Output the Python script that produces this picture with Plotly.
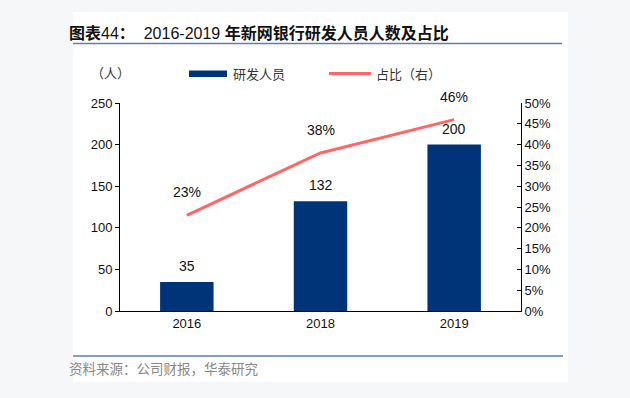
import plotly.graph_objects as go

years = ["2016", "2018", "2019"]
staff = [35, 132, 200]
ratio = [0.23, 0.38, 0.46]
ratio_labels = ["23%", "38%", "46%"]

W, H = 630, 398
L, R, T, B = 120, 521, 103, 311  # plot area pixels


def px(x):
    return (x - L) / (R - L)


def py(y):
    return (B - y) / (B - T)


NAVY = "#003478"
RED = "#ff6666"
BG = "#f6f7f9"
FONT = "Liberation Sans, Arial, Noto Sans CJK SC, sans-serif"

fig = go.Figure()
fig.add_trace(go.Bar(x=years, y=staff, marker=dict(color=NAVY, line=dict(width=0)),
                     width=0.4, name="研发人员", yaxis="y"))
fig.add_trace(go.Scatter(x=years, y=ratio, mode="lines", line=dict(color=RED, width=3),
                         name="占比（右）", yaxis="y2"))

ann = []
for i, v in enumerate(staff):
    ann.append(dict(x=i, y=v, xref="x", yref="y", text=str(v), showarrow=False,
                    yshift=16, font=dict(size=14, color="#111", family=FONT)))
for i, (v, t) in enumerate(zip(ratio, ratio_labels)):
    ann.append(dict(x=i, y=v, xref="x", yref="y2", text=t, showarrow=False,
                    yshift=23, font=dict(size=14, color="#111", family=FONT)))

# title
ann.append(dict(x=px(67), y=py(33), xref="paper", yref="paper", xanchor="left", yanchor="middle",
                showarrow=False,
                text="<b>图表</b>44<b>：</b>  2016-2019 <b>年新网银行研发人员人数及占比</b>",
                font=dict(size=16, color="#111", family=FONT)))
# unit
ann.append(dict(x=px(89), y=py(73), xref="paper", yref="paper", xanchor="left", yanchor="middle",
                showarrow=False, text="（人）", font=dict(size=13, color="#333", family=FONT)))
# legend texts
ann.append(dict(x=px(231), y=py(74), xref="paper", yref="paper", xanchor="left", yanchor="middle",
                showarrow=False, text="研发人员", font=dict(size=13, color="#333", family=FONT)))
ann.append(dict(x=px(374), y=py(74), xref="paper", yref="paper", xanchor="left", yanchor="middle",
                showarrow=False, text="占比（右）", font=dict(size=13, color="#333", family=FONT)))
# source
ann.append(dict(x=px(67), y=py(369), xref="paper", yref="paper", xanchor="left", yanchor="middle",
                showarrow=False, text="资料来源：公司财报，华泰研究",
                font=dict(size=13.5, color="#888", family=FONT)))

shapes = [
    # card
    dict(type="rect", xref="paper", yref="paper", x0=px(73), x1=px(568), y0=py(382), y1=py(12),
         fillcolor="white", line=dict(width=0), layer="below"),
    # title underline
    dict(type="line", xref="paper", yref="paper", x0=px(73), x1=px(562), y0=py(43.5), y1=py(43.5),
         line=dict(color="#5b7fae", width=1.5)),
    # bottom line
    dict(type="line", xref="paper", yref="paper", x0=px(73), x1=px(563), y0=py(356), y1=py(356),
         line=dict(color="#5b7fae", width=1.5)),
    # legend symbols
    dict(type="rect", xref="paper", yref="paper", x0=px(189), x1=px(227), y0=py(77), y1=py(70.5),
         fillcolor=NAVY, line=dict(width=0)),
    dict(type="line", xref="paper", yref="paper", x0=px(329), x1=px(371), y0=py(73.5), y1=py(73.5),
         line=dict(color=RED, width=3)),
]

fig.update_layout(
    width=W, height=H,
    margin=dict(l=L, r=W - R, t=T, b=H - B, pad=0),
    paper_bgcolor=BG,
    plot_bgcolor="rgba(0,0,0,0)",
    showlegend=False,
    bargap=0.6,
    font=dict(family=FONT, size=13, color="#111"),
    xaxis=dict(type="category", range=[-0.5, 2.5], showline=True, linecolor="black", linewidth=1,
               ticks="", showgrid=False, tickfont=dict(size=13, color="#111")),
    yaxis=dict(range=[0, 250], dtick=50, showline=True, linecolor="black", linewidth=1,
               ticks="outside", ticklen=4, tickcolor="black", showgrid=False, zeroline=False,
               tickfont=dict(size=13, color="#111")),
    yaxis2=dict(range=[0, 0.5], dtick=0.05, tickformat=".0%", overlaying="y", side="right",
                showline=True, linecolor="black", linewidth=1, ticks="inside", ticklen=4,
                tickcolor="black", showgrid=False, zeroline=False,
                tickfont=dict(size=13, color="#111")),
    annotations=ann,
    shapes=shapes,
)

fig.write_html(
    "out.html",
    config={"displayModeBar": False},
    post_script="document.body.style.margin='0';document.body.style.background='%s';" % BG,
)
